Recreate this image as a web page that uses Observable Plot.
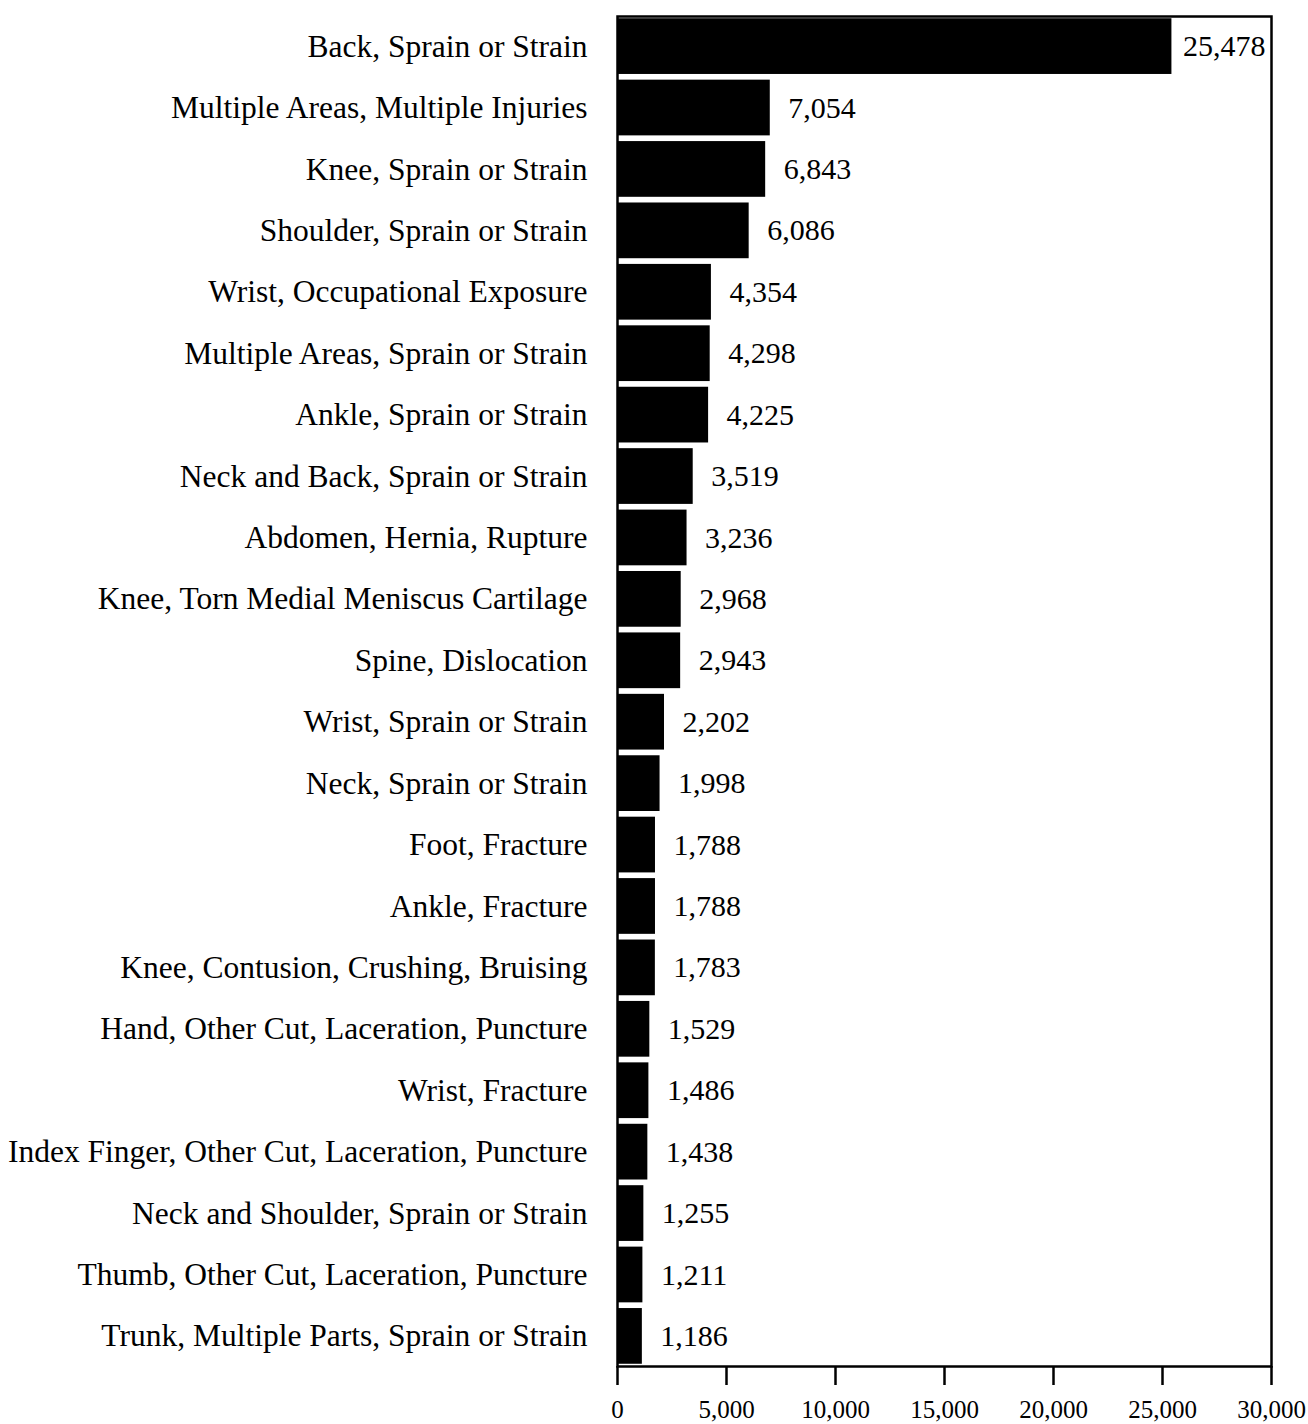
<!DOCTYPE html>
<html>
<head>
<meta charset="utf-8">
<script src="https://cdn.jsdelivr.net/npm/d3@7"></script>
<script src="https://cdn.jsdelivr.net/npm/@observablehq/plot@0.6"></script>
<style>
  body { margin: 0; background: #fff; }
  #chart svg { display: block; }
</style>
</head>
<body>
<div id="chart"></div>
<script>
const categories = [
  "Back, Sprain or Strain",
  "Multiple Areas, Multiple Injuries",
  "Knee, Sprain or Strain",
  "Shoulder, Sprain or Strain",
  "Wrist, Occupational Exposure",
  "Multiple Areas, Sprain or Strain",
  "Ankle, Sprain or Strain",
  "Neck and Back, Sprain or Strain",
  "Abdomen, Hernia, Rupture",
  "Knee, Torn Medial Meniscus Cartilage",
  "Spine, Dislocation",
  "Wrist, Sprain or Strain",
  "Neck, Sprain or Strain",
  "Foot, Fracture",
  "Ankle, Fracture",
  "Knee, Contusion, Crushing, Bruising",
  "Hand, Other Cut, Laceration, Puncture",
  "Wrist, Fracture",
  "Index Finger, Other Cut, Laceration, Puncture",
  "Neck and Shoulder, Sprain or Strain",
  "Thumb, Other Cut, Laceration, Puncture",
  "Trunk, Multiple Parts, Sprain or Strain"
];
const values = [25478, 7054, 6843, 6086, 4354, 4298, 4225, 3519, 3236, 2968, 2943, 2202, 1998, 1788, 1788, 1783, 1529, 1486, 1438, 1255, 1211, 1186];
const xTicks = [0, 5000, 10000, 15000, 20000, 25000, 30000];

const data = categories.map((c, i) => ({category: c, value: values[i]}));
const fmt = d3.format(",");
const font = "'Liberation Serif', 'DejaVu Serif', serif";

const chart = Plot.plot({
  width: 1308,
  height: 1424,
  marginLeft: 617,
  marginRight: 37,
  marginTop: 16,
  marginBottom: 58,
  style: {fontFamily: font, fontSize: "31px", color: "black", background: "white"},
  x: {domain: [0, 30000], ticks: xTicks, tickFormat: fmt, label: null},
  y: {domain: categories, label: null, paddingInner: 0.06, paddingOuter: 0.02, round: false},
  marks: [
    Plot.barX(data, {x: "value", y: "category", fill: "black", stroke: "white", strokeWidth: 2}),
    Plot.text(data.slice(0, 1), {x: "value", y: "category", text: d => fmt(d.value), textAnchor: "start", dx: 10, fontSize: 30, fill: "black"}),
    Plot.text(data.slice(1), {x: "value", y: "category", text: d => fmt(d.value), textAnchor: "start", dx: 17, fontSize: 30, fill: "black"}),
    Plot.frame({stroke: "black", strokeWidth: 2.5}),
    Plot.axisX({ticks: xTicks, tickFormat: fmt, tickSize: 19, tickPadding: 15, fontSize: 25, strokeWidth: 2.5, label: null}),
    Plot.axisY({tickSize: 0, tickPadding: 30, fontSize: 31.5, label: null})
  ]
});
document.getElementById("chart").appendChild(chart);
</script>
</body>
</html>
